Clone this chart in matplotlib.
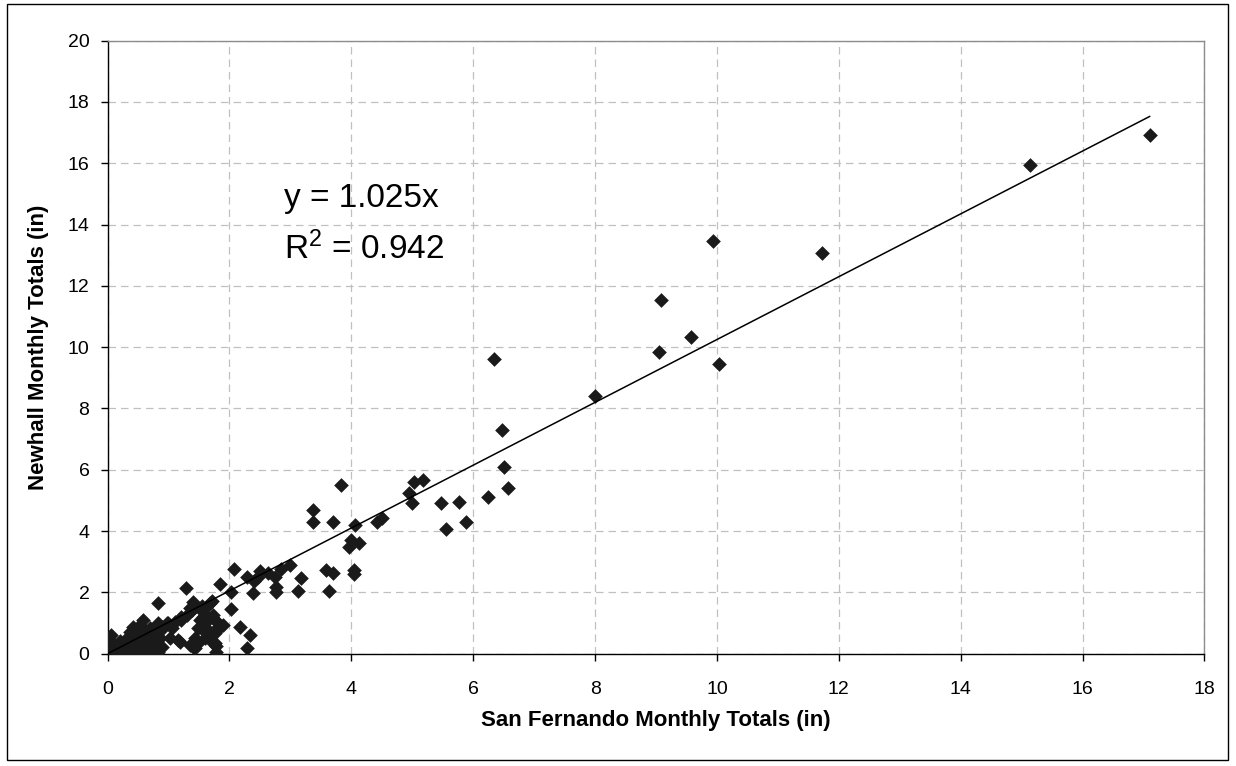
"""
San Fernando vs Newhall monthly rainfall totals, scatter + trendline through origin.
"""
import numpy as np
import matplotlib
matplotlib.use('Agg')
import matplotlib.pyplot as plt
from matplotlib.patches import Rectangle

matplotlib.rcParams.update({
    'font.family': ['Liberation Sans', 'DejaVu Sans'],
    'font.size': 14,
    'mathtext.default': 'regular',
    'axes.linewidth': 1.0,
})

# ── data ──────────────────────────────────────────────────────────────────────
SF_HIGH = [17.10, 15.14, 11.72, 9.93, 9.08, 9.57, 9.05, 10.04, 8.00, 6.34, 6.48, 6.51, 6.57, 6.24]
NH_HIGH = [16.93, 15.93, 13.07, 13.46, 11.54, 10.33, 9.84, 9.45, 8.41, 9.62, 7.30, 6.10, 5.40, 5.12]

SF_MID = [3.83, 3.37, 3.37, 3.70, 4.06, 4.00, 4.12, 3.97, 4.42, 4.50, 4.94, 5.00, 5.03, 5.17,
          5.47, 5.55, 5.77, 5.88, 4.05, 4.05, 3.59, 3.70, 3.64, 3.18, 3.12, 2.99, 2.85, 2.50,
          2.63, 2.29, 2.41, 2.39, 2.75, 2.77, 2.77, 2.17, 2.33, 2.29, 2.07, 1.85, 1.28, 0.83,
          2.02, 2.02, 2.47]
NH_MID = [5.51, 4.68, 4.31, 4.30, 4.20, 3.71, 3.60, 3.47, 4.31, 4.42, 5.23, 4.91, 5.59, 5.66,
          4.91, 4.07, 4.96, 4.30, 2.73, 2.60, 2.73, 2.62, 2.06, 2.48, 2.06, 2.89, 2.76, 2.71,
          2.62, 2.49, 2.37, 1.99, 2.49, 2.19, 2.02, 0.86, 0.61, 0.20, 2.75, 2.27, 2.13, 1.64,
          2.02, 1.45, 2.51]

SF_LOW = [1.78, 1.78, 1.40, 1.43, 1.38, 1.79, 1.81, 1.76, 1.57, 1.51, 1.62, 1.43, 1.40, 1.61,
          1.68, 1.21, 1.19, 1.00, 0.91, 0.81, 0.70, 0.59, 0.56, 0.42, 0.45, 0.75, 1.35, 1.54,
          1.62, 1.65, 1.73, 1.49, 1.60, 1.71, 1.49, 1.35, 1.43, 0.89, 0.86, 1.02, 1.16, 0.81,
          0.89, 0.83, 1.05, 0.97, 1.62, 1.68, 1.76, 1.84, 1.90, 1.62, 1.76, 1.10, 1.20, 1.30,
          1.55, 1.72]
NH_LOW = [0.25, 0.05, 1.70, 1.51, 1.43, 1.04, 0.88, 0.67, 1.21, 1.10, 0.83, 0.50, 0.23, 0.67,
          0.61, 1.10, 0.39, 0.99, 0.83, 0.61, 0.83, 1.10, 0.77, 0.88, 0.72, 0.77, 1.48, 1.43,
          1.26, 1.10, 1.26, 0.83, 0.50, 0.39, 0.34, 0.28, 0.18, 0.88, 0.50, 0.50, 0.45, 0.34,
          0.23, 0.07, 0.83, 0.99, 1.53, 1.64, 1.10, 0.88, 0.94, 0.72, 0.34, 1.05, 1.20, 1.25,
          1.55, 1.72]

SF_ORIGIN = [0.53, 0.37, 0.65, 0.58, 0.83, 0.78, 0.75, 0.83, 0.04, 0.01, 0.10, 0.18, 0.26,
             0.37, 0.45, 0.50, 0.59, 0.67, 0.29, 0.15, 0.04, 0.48, 0.56, 0.05, 0.05, 0.02,
             0.20, 0.30, 0.35, 0.25, 0.40, 0.55, 0.65, 0.70, 0.12, 0.08, 0.32, 0.62, 0.72]
NH_ORIGIN = [0.94, 0.71, 0.71, 0.55, 1.00, 0.71, 0.45, 0.28, 0.45, 0.07, 0.01, 0.23, 0.12,
             0.34, 0.18, 0.34, 0.12, 0.02, 0.02, 0.02, 0.02, 0.02, 0.02, 0.60, 0.30, 0.15,
             0.40, 0.30, 0.20, 0.25, 0.45, 0.40, 0.30, 0.55, 0.10, 0.20, 0.50, 0.20, 0.15]

SLOPE = 1.025
R2 = 0.942

X_TICKS = list(range(0, 19, 2))
Y_TICKS = list(range(0, 21, 2))

GRID_COLOR = '#c0c0c0'
MARKER_COLOR = '#1a1a1a'


def plot_scatter():
    sf = np.array(SF_HIGH + SF_MID + SF_LOW + SF_ORIGIN)
    nh = np.array(NH_HIGH + NH_MID + NH_LOW + NH_ORIGIN)

    fig = plt.figure(figsize=(12.36, 7.66), dpi=100)
    ax = fig.add_axes([0.087, 0.1466, 0.8875, 0.8003])

    # 외곽 테두리
    fig.add_artist(Rectangle((0.0057, 0.0078), 0.988, 0.987, transform=fig.transFigure,
                             fill=False, ec='black', lw=1.0))

    ax.scatter(sf, nh, marker='D', s=56, color=MARKER_COLOR, linewidths=0, zorder=3)

    xf = np.array([0, sf.max()])
    ax.plot(xf, SLOPE * xf, color='black', lw=1.1, zorder=4)

    ax.set_xlim(0, 18)
    ax.set_ylim(0, 20)
    ax.set_xticks(X_TICKS)
    ax.set_yticks(Y_TICKS)
    ax.tick_params(direction='out', length=5, width=1.0, labelsize=14, colors='black')
    ax.tick_params(axis='x', pad=15)
    ax.tick_params(axis='y', pad=8)

    ax.grid(True, color=GRID_COLOR, ls=(0, (6, 4)), lw=0.9, zorder=0)
    ax.set_axisbelow(True)
    for side in ('top', 'right'):
        ax.spines[side].set_color('#8c8c8c')

    ax.set_xlabel('San Fernando Monthly Totals (in)', fontsize=16, fontweight='bold')
    ax.set_ylabel('Newhall Monthly Totals (in)', fontsize=16, fontweight='bold')
    ax.xaxis.set_label_coords(0.5, -0.092)
    ax.yaxis.set_label_coords(-0.053, 0.5)

    ax.text(2.89, 14.57, f'y = {SLOPE:.3f}x', fontsize=24, ha='left', va='baseline')
    ax.text(2.89, 12.88, f'R$^2$ = {R2:.3f}', fontsize=24, ha='left', va='baseline')

    fig.savefig('out.png', dpi=100)
    plt.close(fig)


if __name__ == '__main__':
    plot_scatter()
